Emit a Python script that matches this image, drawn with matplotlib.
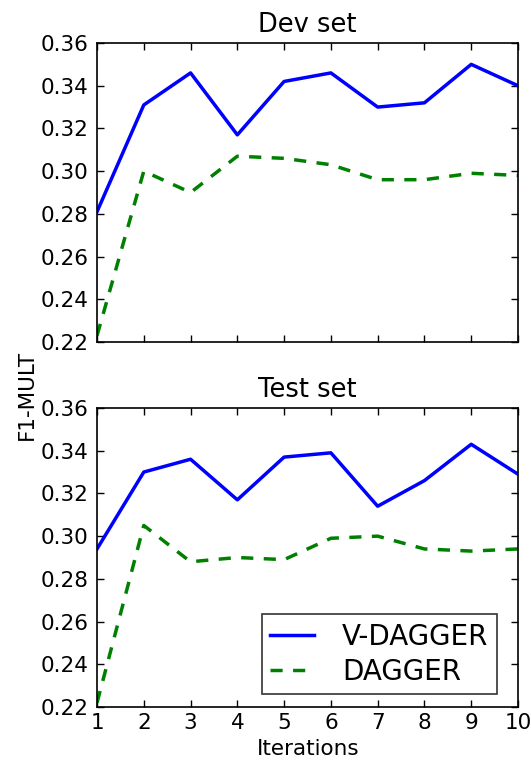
import matplotlib
matplotlib.use("Agg")
import matplotlib.pyplot as plt

iterations = [1, 2, 3, 4, 5, 6, 7, 8, 9, 10]

dev_vdagger = [0.281, 0.331, 0.346, 0.317, 0.342, 0.346, 0.330, 0.332, 0.350, 0.340]
dev_dagger = [0.223, 0.300, 0.290, 0.307, 0.306, 0.303, 0.296, 0.296, 0.299, 0.298]

test_vdagger = [0.294, 0.330, 0.336, 0.317, 0.337, 0.339, 0.314, 0.326, 0.343, 0.329]
test_dagger = [0.222, 0.305, 0.288, 0.290, 0.289, 0.299, 0.300, 0.294, 0.293, 0.294]

yticks = [0.22, 0.24, 0.26, 0.28, 0.30, 0.32, 0.34, 0.36]

plt.rcParams['font.family'] = ['DejaVu Sans']

fig = plt.figure(figsize=(5.31, 7.6), dpi=100)
ax1 = fig.add_axes([0.1827, 0.55, 0.7928, 0.3934])
ax2 = fig.add_axes([0.1827, 0.0697, 0.7928, 0.3935])

panels = [(ax1, dev_vdagger, dev_dagger, "Dev set"),
          (ax2, test_vdagger, test_dagger, "Test set")]

for ax, v, d, title in panels:
    ax.plot(iterations, v, color='#0000ff', linewidth=2.5, label='V-DAGGER')
    ax.plot(iterations, d, color='#008000', linewidth=2.5, linestyle='--',
            dashes=(3.5, 3), label='DAGGER')
    ax.set_xlim(1, 10)
    ax.set_ylim(0.22, 0.36)
    ax.set_xticks(iterations)
    ax.set_yticks(yticks)
    ax.set_yticklabels(['%.2f' % t for t in yticks])
    ax.tick_params(direction='in', top=True, right=True, length=5, width=1,
                   labelsize=15.5)
    ax.tick_params(axis='y', pad=6)
    ax.tick_params(axis='x', pad=4.5)
    ax.set_title(title, fontsize=18.5, pad=8)
    for s in ax.spines.values():
        s.set_linewidth(1.2)

ax1.tick_params(labelbottom=False)

leg = ax2.legend(loc='lower right', bbox_to_anchor=(0.95, 0.0435),
                 borderaxespad=0, fontsize=20, fancybox=False,
                 handlelength=1.6, handletextpad=1.0, borderpad=0.3,
                 labelspacing=0.25)
leg.get_frame().set_edgecolor('black')
leg.get_frame().set_linewidth(1.2)

fig.text(0.05, 0.48, 'F1-MULT', rotation=90, ha='center', va='center',
         fontsize=15.5)
fig.text(0.581, 1.0 / 760, 'Iterations', ha='center', va='bottom',
         fontsize=15.5)

fig.savefig('out.png', dpi=100)
